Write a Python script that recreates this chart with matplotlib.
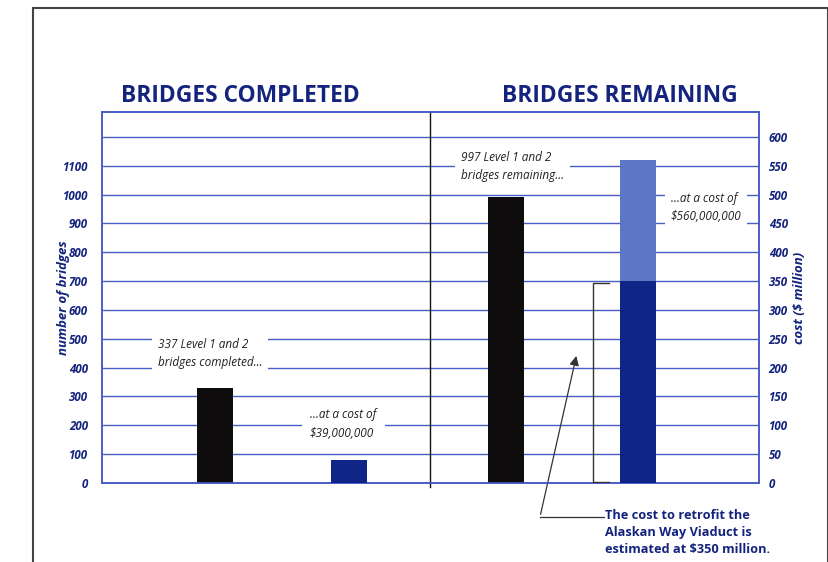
import matplotlib.pyplot as plt
from matplotlib.patches import Rectangle

# data
groups = ['BRIDGES COMPLETED', 'BRIDGES REMAINING']
bridge_counts = [330, 990]          # number of bridges (left axis)
costs = [39, 560]                   # $ million (right axis)
viaduct_cost = 350                  # $ million, part of the remaining cost
count_ticks = [0, 100, 200, 300, 400, 500, 600, 700, 800, 900, 1000, 1100]
cost_ticks = [0, 50, 100, 150, 200, 250, 300, 350, 400, 450, 500, 550, 600]

NAVY = '#14237d'
GRID = '#4a5cc6'
DARK = '#0f2687'
LIGHT = '#5b77c6'
FONT = 'Open Sans'

fig = plt.figure(figsize=(8.29, 5.62), dpi=100)
ax = fig.add_axes([0.123, 0.1406, 0.7925, 0.6594])
ax2 = ax.twinx()

ymax = 1285
ax.set_ylim(0, ymax)
ax2.set_ylim(0, ymax / 2)
ax.set_xlim(0, 6.57)

# bar positions (layout)
count_x = [1.13, 4.04]
cost_x = [2.47, 5.36]
w = 0.36

# grid lines every 100 bridges (= 50 $ million)
for g in range(100, 1300, 100):
    ax.axhline(g, color=GRID, lw=1.0, zorder=1)

ax.bar(count_x, bridge_counts, width=w, color='#0e0c0c', zorder=3)
ax2.bar(cost_x[0], costs[0], width=w, color=DARK, zorder=3)
ax2.bar(cost_x[1], viaduct_cost, width=w, color=DARK, zorder=3)
ax2.bar(cost_x[1], costs[1] - viaduct_cost, bottom=viaduct_cost, width=w,
        color=LIGHT, zorder=3)

# divider between the two panels
ax.plot([3.28, 3.28], [-15, ymax], color='#111111', lw=1.0, clip_on=False, zorder=4)

for a in (ax, ax2):
    for s in a.spines.values():
        s.set_color(GRID)
        s.set_linewidth(1.2)
ax.set_xticks([])
ax.set_yticks(count_ticks)
ax.set_yticklabels([str(t) for t in count_ticks])
ax2.set_yticks(cost_ticks)
ax2.set_yticklabels([str(t) for t in cost_ticks])
ax.tick_params(axis='y', length=0, pad=10, labelcolor=NAVY)
ax2.tick_params(axis='y', length=0, pad=7, labelcolor=NAVY)
for lab in ax.get_yticklabels() + ax2.get_yticklabels():
    lab.set_fontfamily(FONT)
    lab.set_fontweight('bold')
    lab.set_fontstyle('italic')
    lab.set_fontsize(8.3)

ax.set_ylabel('number of bridges', fontfamily=FONT, fontweight='bold',
              fontstyle='italic', fontsize=9.5, color=NAVY, labelpad=-5)
ax2.set_ylabel('cost ($ million)', fontfamily=FONT, fontweight='bold',
               fontstyle='italic', fontsize=9.5, color=NAVY, labelpad=4)

# panel titles
for cx, title in zip([1.38, 5.18], groups):
    ax.text(cx, ymax + 14, title, ha='center', va='bottom', fontfamily=FONT,
            fontweight='bold', fontsize=16.4, color=NAVY)

box = dict(facecolor='white', edgecolor='none', pad=4)
txt = dict(fontfamily=FONT, fontstyle='italic', fontsize=8.5, color='#222222',
           zorder=5, linespacing=1.55)
ax.text(0.56, 449, '337 Level 1 and 2\nbridges completed\u2026', ha='left',
        va='center', bbox=box, **txt)
ax.text(2.08, 204, '\u2026at a cost of\n$39,000,000', ha='left', va='center',
        bbox=dict(facecolor='white', edgecolor='none', pad=6), **txt)
ax.text(3.59, 1097, '997 Level 1 and 2\nbridges remaining\u2026', ha='left',
        va='center', bbox=box, **txt)
ax.text(5.69, 955, '\u2026at a cost of\n$560,000,000', ha='left', va='center',
        bbox=box, **txt)

# bracket beside the viaduct share
ax2.plot([5.07, 4.91, 4.91, 5.07], [viaduct_cost - 3, viaduct_cost - 3, 1, 1],
         color='#333333', lw=1.0, zorder=4)

# arrow and note below the chart
ax.annotate('', xy=(4.75, 450), xytext=(4.38, -118),
            arrowprops=dict(arrowstyle='-|>', color='#333333', lw=0.9,
                            mutation_scale=14), annotation_clip=False, zorder=5)
ax.plot([4.38, 5.02], [-118, -118], color='#333333', lw=0.9, clip_on=False)
ax.text(5.03, -90, 'The cost to retrofit the\nAlaskan Way Viaduct is\nestimated at $350 million.',
        ha='left', va='top', fontfamily=FONT, fontweight='bold', fontsize=9.2,
        color=NAVY, linespacing=1.4)

# outer border of the figure
fig.add_artist(Rectangle((33 / 829, -0.05), (828 - 33) / 829, 1.05 - 8 / 562,
                         transform=fig.transFigure, fill=False,
                         edgecolor='#444444', lw=1.5))

fig.savefig('out.png', dpi=100)
